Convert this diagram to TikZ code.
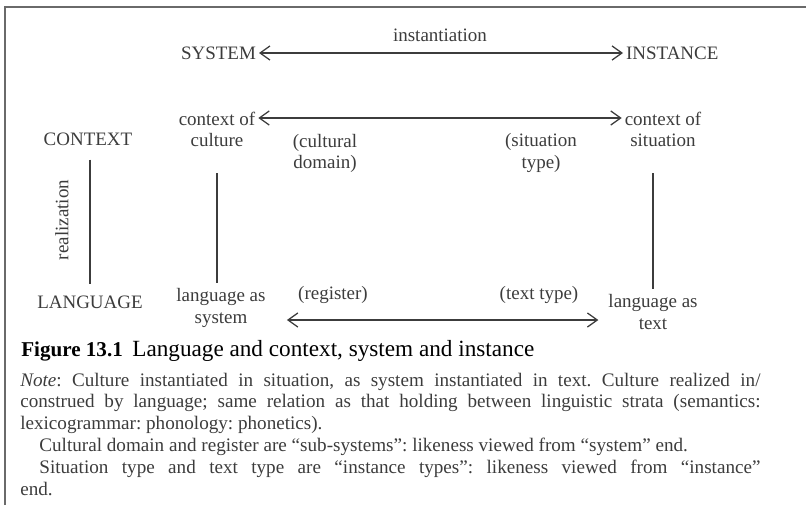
\documentclass[tikz,border=0pt]{standalone}
\usepackage{fontspec}
\setmainfont{Liberation Serif}
\usepackage{xcolor}
\usepackage{tikz}
\usetikzlibrary{positioning,calc,arrows.meta}

\definecolor{inkgray}{HTML}{3C3C3C}
\definecolor{framegray}{HTML}{6A6A6A}

\tikzset{
  lbl/.style={font=\fontsize{13.5}{15}\selectfont, text=inkgray, inner sep=2pt, align=center},
  realline/.style={draw=inkgray, line width=0.8pt},
  instarrow/.style={draw=inkgray, line width=0.9pt,
    {Straight Barb[length=7pt,width=10pt]}-{Straight Barb[length=7pt,width=10pt]}}
}

\begin{document}
\frenchspacing
\begin{tikzpicture}[x=0.025cm,y=-0.025cm]
    \useasboundingbox (0,0) rectangle (806,505);
    % Frame
    \draw[framegray, line width=1.1pt] (5,505) -- (5,7) -- (806,7);
    % System -- instance
    \node[lbl] (inst) at (440,35) {instantiation};
    \node[lbl, anchor=east] (sys) at (259,53) {SYSTEM};
    \node[lbl, anchor=west] (ins) at (623,53) {INSTANCE};
    \draw[instarrow] (sys) -- (ins);
    % Context row
    \node[lbl] (ctx) at (88,139) {CONTEXT};
    \node[lbl] (cult) at (217,129) {context of\\culture};
    \node[lbl] (sit) at (663,129) {context of\\situation};
    \node[lbl] (dom) at (325,153) {(cultural\\domain)};
    \node[lbl] (stype) at (541,153) {(situation\\type)};
    \coordinate (midrow) at (0,118);
    \draw[instarrow] (cult.east |- midrow) -- (sit.west |- midrow);
    % Language row
    \node[lbl] (lang) at (90,302) {LANGUAGE};
    \node[lbl] (lsys) at (221,308) {language as\\system};
    \node[lbl] (ltxt) at (653,312) {language as\\text};
    \node[lbl] (reg) at (333,295) {(register)};
    \node[lbl] (ttype) at (539,295) {(text type)};
    \coordinate (lowrow) at (0,320);
    \draw[instarrow, shorten <=13pt, shorten >=5pt] (lsys.east |- lowrow) -- (ltxt.west |- lowrow);
    % Realization
    \node[lbl, rotate=90] (real) at (62,220) {realization};
    \draw[realline, shorten <=8pt, shorten >=6pt] (ctx.south -| lang.north) -- (lang.north);
    \draw[realline, shorten <=17pt, shorten >=2pt] (cult.south) -- (cult.south |- lsys.north);
    \draw[realline, shorten <=17pt, shorten >=2pt] (sit.south -| ltxt.north) -- (ltxt.north);
    % Caption and note
    \node[anchor=base west, inner sep=0pt, font=\fontsize{16.5}{18}\selectfont] (cap) at (21,356)
      {\fontsize{15}{18}\selectfont\textbf{Figure 13.1}\hspace{0.45em}\fontsize{16.5}{18}\selectfont Language and context, system and instance};
    \node[anchor=base west, inner sep=0pt, text width=18.5cm, align=left,
      font=\fontsize{13.6}{15.6}\selectfont, text=inkgray] (note) at (20,386)
      {\spaceskip=0pt\xspaceskip=0pt
       \makebox[18.5cm][s]{\textit{Note}: Culture instantiated in situation, as system instantiated in text. Culture realized in/}\\
       \makebox[18.5cm][s]{construed by language; same relation as that holding between linguistic strata (semantics:}\\
       lexicogrammar: phonology: phonetics).\\
       \hspace*{1em}Cultural domain and register are ``sub-systems'': likeness viewed from ``system'' end.\\
       \makebox[18.5cm][s]{\hspace*{1em}Situation type and text type are ``instance types'': likeness viewed from ``instance''}\\
       end.};
\end{tikzpicture}
\end{document}
